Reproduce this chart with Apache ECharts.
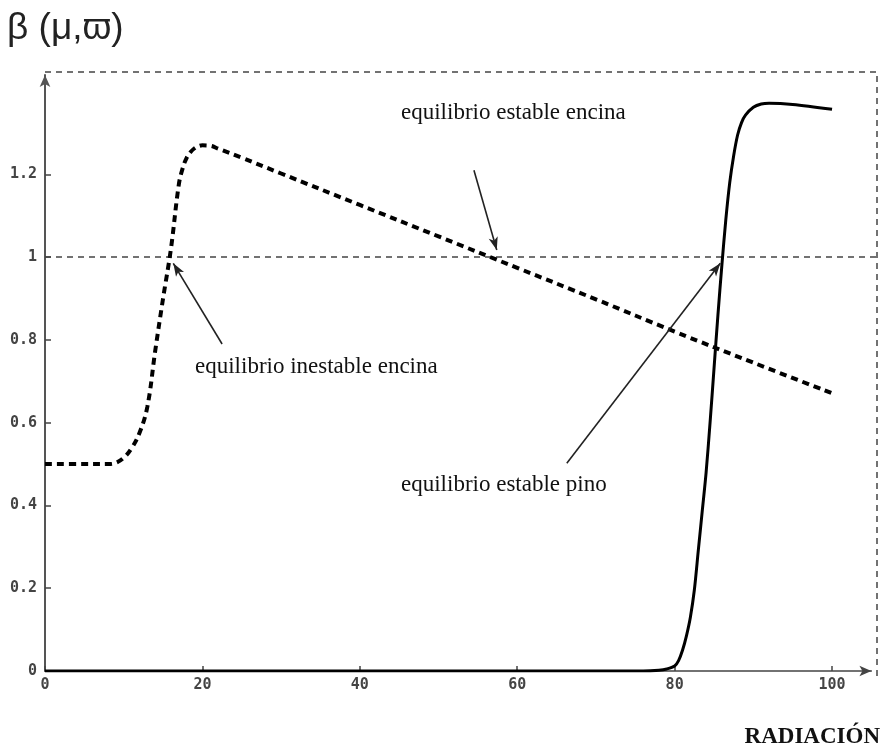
<!DOCTYPE html>
<html><head><meta charset="utf-8">
<script src="https://cdn.jsdelivr.net/npm/echarts@6/dist/echarts.min.js"></script>
<style>html,body{margin:0;padding:0;background:#fff}#c{width:883px;height:751px}</style>
</head><body><div id="c"></div>
<script>
// ---- data ----
const xTicks = [0, 20, 40, 60, 80, 100];
const yTicks = [0, 0.2, 0.4, 0.6, 0.8, 1, 1.2];
const encinaX = [0, 5, 8, 9, 10, 11, 12, 13, 14, 15, 16, 17, 17.5, 18, 18.5, 19, 19.5, 20, 21, 22, 25, 30, 40, 50, 60, 70, 80, 90, 100];
const encinaY = [0.5, 0.5, 0.5, 0.503, 0.515, 0.538, 0.575, 0.638, 0.773, 0.9, 1.02, 1.175, 1.215, 1.24, 1.254, 1.263, 1.268, 1.27, 1.269, 1.262, 1.24, 1.202, 1.126, 1.05, 0.974, 0.898, 0.82, 0.745, 0.671];
const pinoX = [0, 40, 76, 78, 79, 80, 80.5, 81, 81.5, 82, 82.5, 83, 83.5, 84, 84.5, 85, 85.5, 86, 86.5, 87, 87.5, 88, 88.5, 89, 90, 91, 92, 95, 100];
const pinoY = [0, 0, 0, 0.002, 0.005, 0.012, 0.025, 0.05, 0.085, 0.13, 0.195, 0.29, 0.385, 0.48, 0.6, 0.73, 0.86, 0.98, 1.09, 1.18, 1.245, 1.295, 1.325, 1.343, 1.362, 1.37, 1.372, 1.369, 1.357];
const thresholdValue = 1;
const arrowInestableEncina = [[22.5, 0.79], [16.3, 0.985]];
const arrowEstableEncina = [[54.5, 1.21], [57.4, 1.017]];
const arrowEstablePino = [[66.3, 0.502], [85.8, 0.985]];
const labelInestableEncina = 'equilibrio inestable encina';
const labelEstableEncina = 'equilibrio estable encina';
const labelEstablePino = 'equilibrio estable pino';
const yTitle = 'β (μ,ϖ)';
const xTitle = 'RADIACIÓN';

const zip = (xs, ys) => xs.map((x, i) => [x, ys[i]]);
const arrowItem = (a) => [
  { coord: a[0], symbol: 'none' },
  { coord: a[1], symbol: 'arrow' }
];
const annFont = 'normal 23px "Liberation Serif", "Times New Roman", serif';
const tickFont = { color: '#444', fontFamily: '"DejaVu Sans Mono", monospace', fontWeight: 'bold', fontSize: 15 };

const chart = echarts.init(document.getElementById('c'), null, { renderer: 'canvas' });
chart.setOption({
  animation: false,
  backgroundColor: '#fff',
  grid: { left: 45, right: 11.6, top: 75, bottom: 80, containLabel: false },
  xAxis: {
    type: 'value', min: 0, max: 105,
    splitLine: { show: false },
    axisLine: { show: true, lineStyle: { color: '#444', width: 1.5 }, symbol: ['none', 'arrow'], symbolSize: [8, 12] },
    axisTick: { show: true, inside: true, length: 5, customValues: xTicks, lineStyle: { color: '#444', width: 1.5 } },
    axisLabel: Object.assign({ customValues: xTicks, margin: 7 }, tickFont)
  },
  yAxis: {
    type: 'value', min: 0, max: 1.44,
    splitLine: { show: false },
    axisLine: { show: true, lineStyle: { color: '#555', width: 2 }, symbol: ['none', 'arrow'], symbolSize: [8, 12] },
    axisTick: { show: true, inside: true, length: 6, customValues: yTicks, lineStyle: { color: '#444', width: 1.5 } },
    axisLabel: Object.assign({ customValues: yTicks, margin: 8 }, tickFont)
  },
  series: [
    {
      name: 'encina', type: 'line', data: zip(encinaX, encinaY), showSymbol: false, smooth: 0.4,
      lineStyle: { color: '#000', width: 4, type: [7, 5] },
      z: 3,
      markLine: {
        silent: true, animation: false,
        label: { show: false },
        symbolSize: [7, 13],
        data: [
          arrowItem(arrowInestableEncina),
          arrowItem(arrowEstableEncina),
          arrowItem(arrowEstablePino)
        ],
        lineStyle: { color: '#222', width: 1.6, type: 'solid' }
      }
    },
    {
      name: 'pino', type: 'line', data: zip(pinoX, pinoY), showSymbol: false, smooth: 0.3,
      lineStyle: { color: '#000', width: 3 }, z: 4
    }
  ],
  graphic: [
    { id: 'frame', type: 'polyline', shape: { points: [[45, 72], [877, 72], [877, 676]] }, style: { stroke: '#444', lineWidth: 1.5, lineDash: [6, 5], fill: null }, z: 1 },
    { id: 'ytitle', type: 'text', style: { text: yTitle, x: 7, y: 29, font: 'normal 37px "Liberation Sans", Arial, sans-serif', fill: '#222', verticalAlign: 'middle' } },
    { id: 'xtitle', type: 'text', style: { text: xTitle, x: 880, y: 737, font: 'bold 23px "Liberation Serif", "Times New Roman", serif', fill: '#111', align: 'right', verticalAlign: 'middle' } },
    { id: 'a1', type: 'text', style: { text: labelEstableEncina, x: 401, y: 113, font: annFont, fill: '#111', verticalAlign: 'middle' } },
    { id: 'a2', type: 'text', style: { text: labelInestableEncina, x: 195, y: 367, font: annFont, fill: '#111', verticalAlign: 'middle' } },
    { id: 'a3', type: 'text', style: { text: labelEstablePino, x: 401, y: 485, font: annFont, fill: '#111', verticalAlign: 'middle' } }
  ]
});
// threshold dashed line at beta = 1, positioned through the axis scale
const p0 = chart.convertToPixel({ gridIndex: 0 }, [0, thresholdValue]);
chart.setOption({
  graphic: [
    { id: 'threshold', type: 'line', shape: { x1: p0[0], y1: p0[1], x2: 877, y2: p0[1] }, style: { stroke: '#444', lineWidth: 1.5, lineDash: [6, 5] }, z: 1 }
  ]
});
</script></body></html>
